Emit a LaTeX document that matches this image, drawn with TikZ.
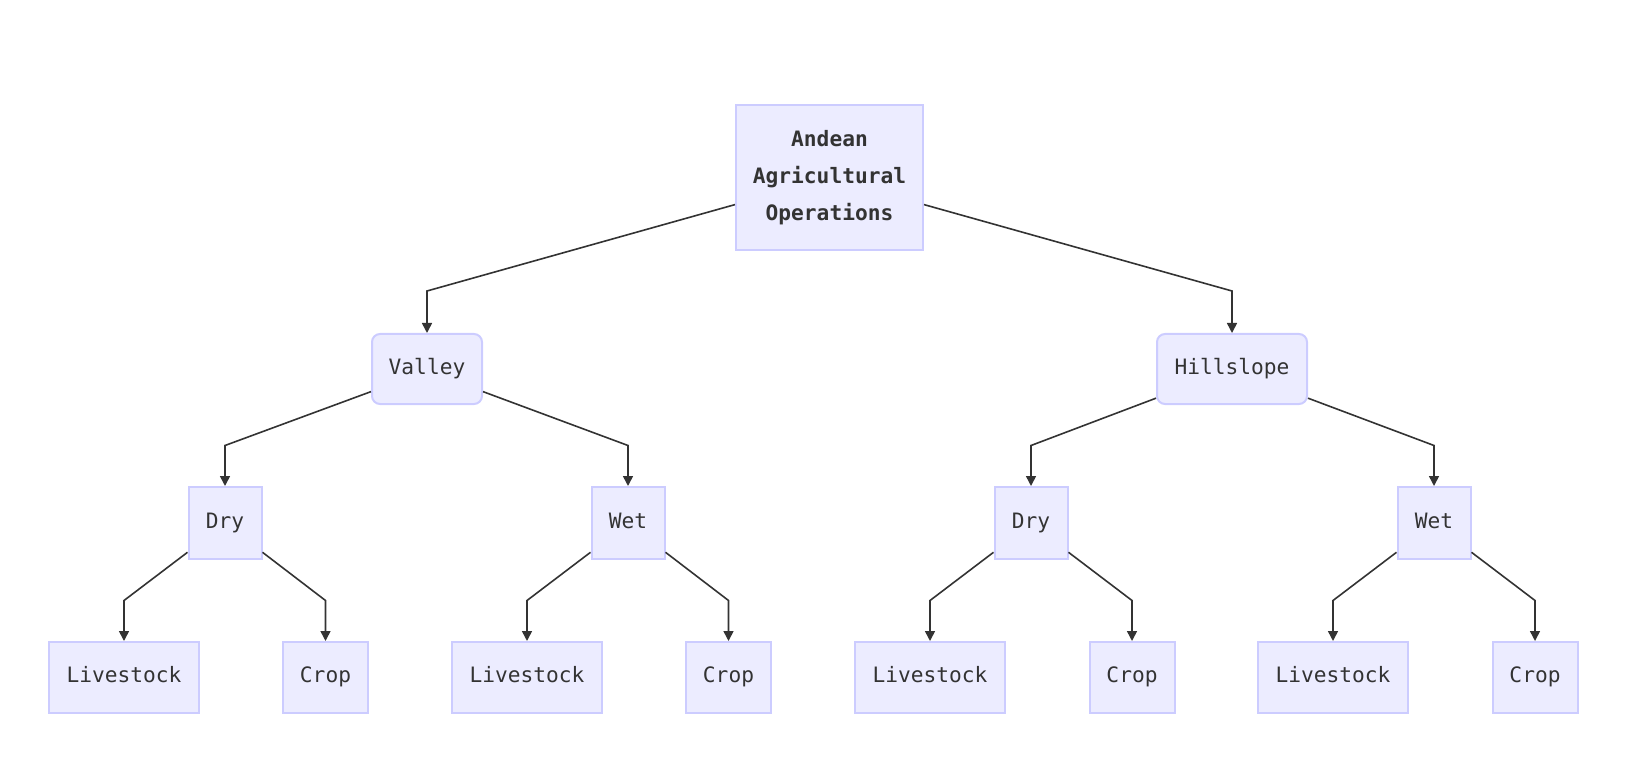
\documentclass[tikz,border=0pt]{standalone}
\usepackage{fontspec}
\setmonofont{DejaVu Sans Mono}
\usetikzlibrary{arrows.meta}
\definecolor{boxfill}{HTML}{ECECFF}
\definecolor{boxline}{HTML}{CCCCFF}
\definecolor{ink}{HTML}{333333}

\begin{document}
\begin{tikzpicture}[x=0.5pt, y=0.5pt,
  every node/.style={draw=boxline, fill=boxfill, line width=1pt, text=ink,
    font=\ttfamily\fontsize{10.6}{18.5}\selectfont, inner sep=0pt,
    text height=7.8pt, text depth=2.6pt},
  link/.style={draw=ink, line width=0.8pt, -{Triangle[length=5pt, width=5pt]}}]
  \useasboundingbox (0,0) rectangle (1632,756);
  % bend rows
  \coordinate (rowA) at (0,465);
  \coordinate (rowB) at (0,310.5);
  \coordinate (rowC) at (0,155.5);
  \node[minimum width=93.5pt, minimum height=72.5pt, align=center, text height={}, text depth={},
    font=\ttfamily\bfseries\fontsize{10.6}{18.5}\selectfont]
    (root) at (829.5,578.5) {Andean\\Agricultural\\Operations};
  \node[rounded corners=4pt, minimum width=55pt, minimum height=35pt] (valley) at (427,387) {Valley};
  \node[rounded corners=4pt, minimum width=75pt, minimum height=35pt] (hill) at (1232,387) {Hillslope};
  \node[minimum width=36.5pt, minimum height=36pt] (vdry) at (225,233) {Dry};
  \node[minimum width=36.5pt, minimum height=36pt] (vwet) at (628,233) {Wet};
  \node[minimum width=36.5pt, minimum height=36pt] (hdry) at (1031,233) {Dry};
  \node[minimum width=36.5pt, minimum height=36pt] (hwet) at (1434,233) {Wet};
  \node[minimum width=75pt, minimum height=35.5pt] (vdl) at (124,78.5) {Livestock};
  \node[minimum width=42.5pt, minimum height=35.5pt] (vdc) at (325.5,78.5) {Crop};
  \node[minimum width=75pt, minimum height=35.5pt] (vwl) at (527,78.5) {Livestock};
  \node[minimum width=42.5pt, minimum height=35.5pt] (vwc) at (728.5,78.5) {Crop};
  \node[minimum width=75pt, minimum height=35.5pt] (hdl) at (930,78.5) {Livestock};
  \node[minimum width=42.5pt, minimum height=35.5pt] (hdc) at (1132,78.5) {Crop};
  \node[minimum width=75pt, minimum height=35.5pt] (hwl) at (1333,78.5) {Livestock};
  \node[minimum width=42.5pt, minimum height=35.5pt] (hwc) at (1535,78.5) {Crop};
  \draw[link] (root.196) -- (valley.north |- rowA) -- (valley.north);
  \draw[link] (root.344) -- (hill.north |- rowA) -- (hill.north);
  \draw[link] (valley.202) -- (vdry.north |- rowB) -- (vdry.north);
  \draw[link] (valley.338) -- (vwet.north |- rowB) -- (vwet.north);
  \draw[link] (hill.201) -- (hdry.north |- rowB) -- (hdry.north);
  \draw[link] (hill.339) -- (hwet.north |- rowB) -- (hwet.north);
  \foreach \src/\lft/\rgt in {vdry/vdl/vdc, vwet/vwl/vwc, hdry/hdl/hdc, hwet/hwl/hwc} {
    \draw[link] (\src.218) -- (\lft.north |- rowC) -- (\lft.north);
    \draw[link] (\src.322) -- (\rgt.north |- rowC) -- (\rgt.north);
  }
\end{tikzpicture}
\end{document}
